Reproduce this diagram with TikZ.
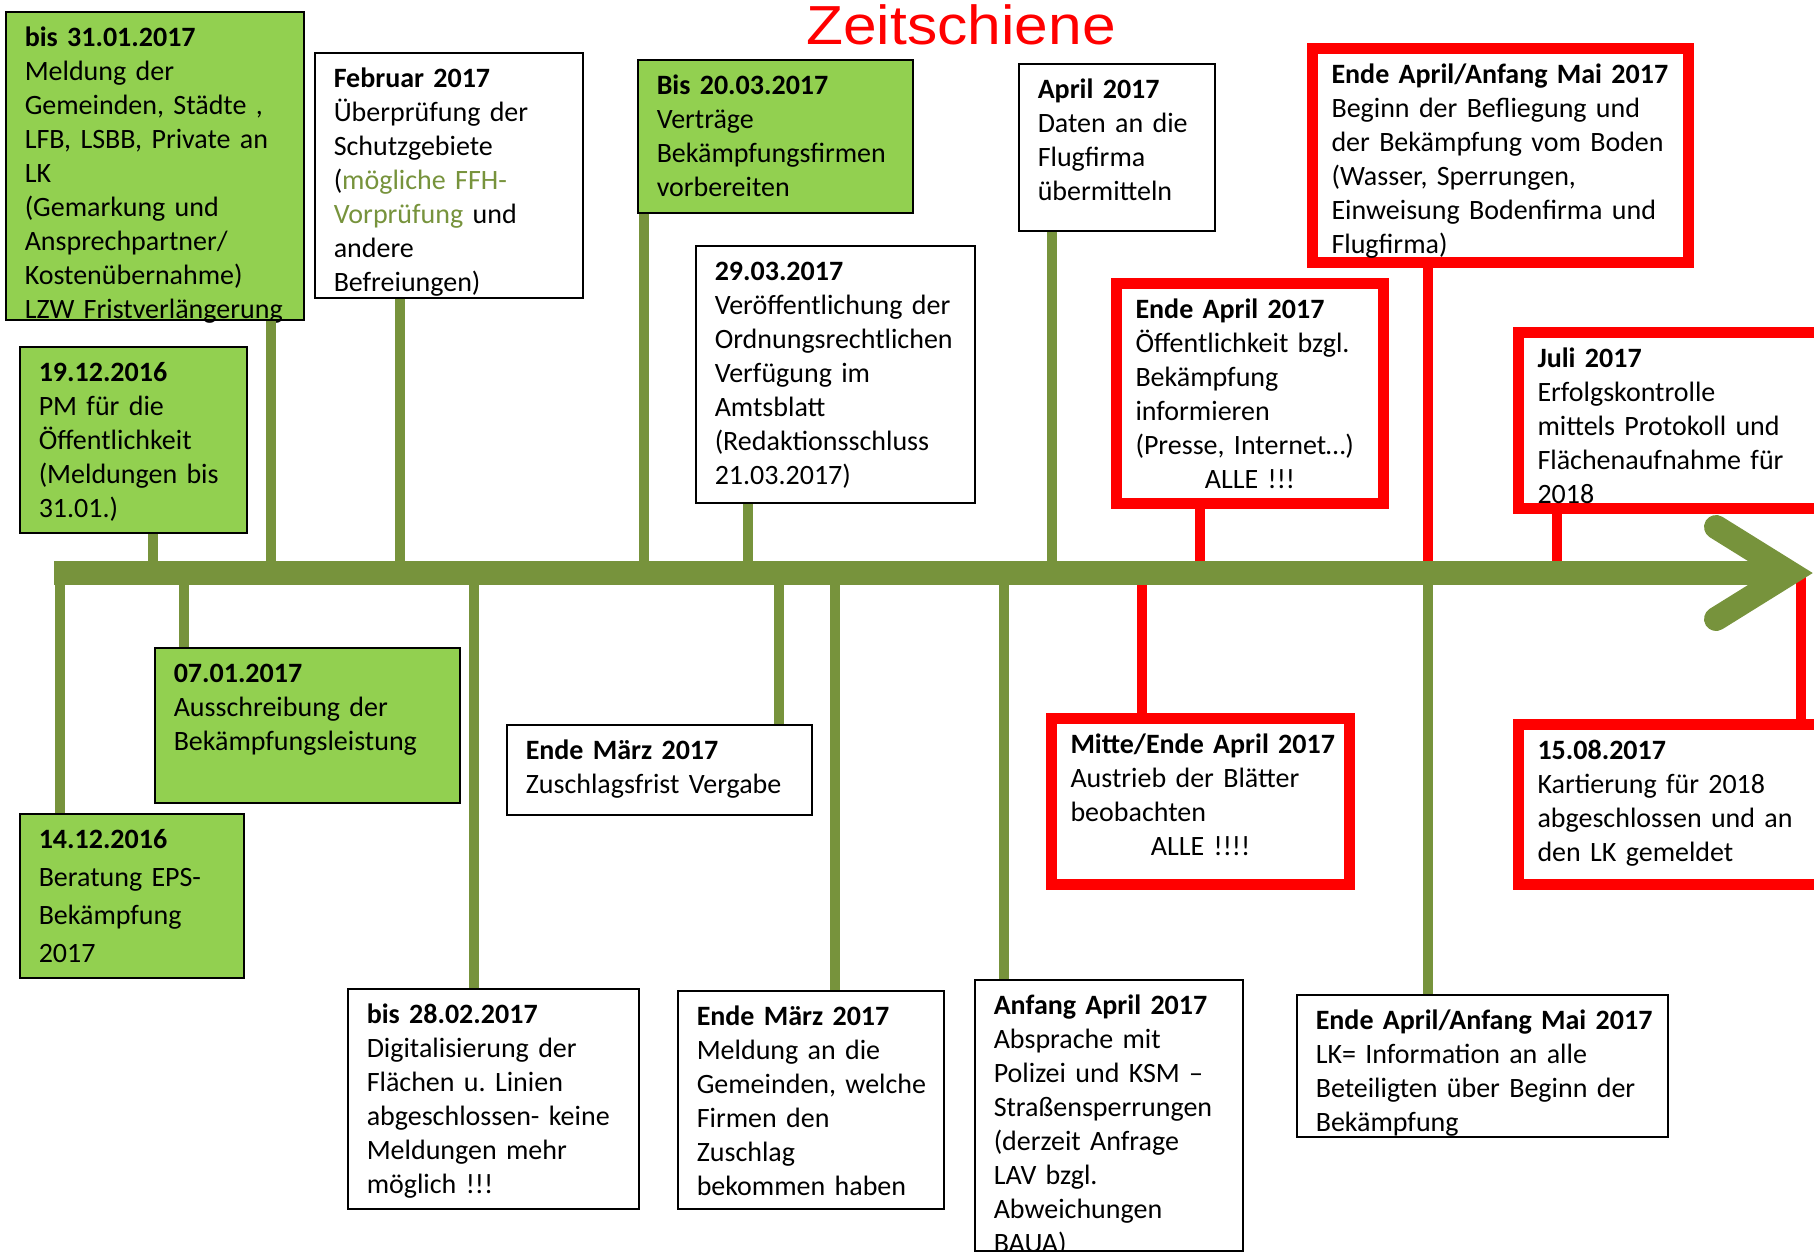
\documentclass[tikz,border=0pt]{standalone}
\usepackage{fontspec}
\setmainfont{Carlito}
\newfontfamily\titlefont[FakeStretch=1.1]{Liberation Sans}
\definecolor{cgreen}{HTML}{92D050}
\definecolor{colive}{HTML}{77933C}
\definecolor{cred}{HTML}{FF0000}
\hyphenpenalty=10000
\exhyphenpenalty=10000
\frenchspacing
% let the hand-broken lines run a little past the text width
\newcommand\looseright{\rightskip=-60pt plus 1fil\relax}

\begin{document}
\begin{tikzpicture}[
    x=1pt, y=-1pt,
    evt/.style={anchor=north west, align=left, inner xsep=19pt, inner ysep=13pt, text height=22pt,
        font=\fontsize{28}{34}\selectfont, execute at begin node=\looseright},
    gbox/.style={evt, draw=black, line width=1.5pt, fill=cgreen},
    wbox/.style={evt, draw=black, line width=1.5pt, fill=white},
    rbox/.style={evt, draw=cred, line width=11pt, fill=white},
    gstem/.style={colive, line width=10pt},
    rstem/.style={cred, line width=10pt},
    axisline/.style={colive, line width=24pt},
]
\useasboundingbox (0,0) rectangle (1814,1251);

% Title
\node[anchor=base, text=cred, font=\titlefont\fontsize{55}{56}\selectfont] (title) at (961,44) {Zeitschiene};

% Boxes above the axis
\node[gbox, text width=260pt, text depth=260pt] (d3101) at (5,11) {\textbf{bis 31.01.2017}\\Meldung der\\Gemeinden, Städte ,\\LFB, LSBB, Private an\\LK\\(Gemarkung und\\Ansprechpartner/\\Kostenübernahme)\\LZW Fristverlängerung};
\node[wbox, text width=230pt, text depth=197pt] (dfeb) at (314,52) {\textbf{Februar 2017}\\Überprüfung der\\Schutzgebiete\\(\textcolor{colive}{mögliche FFH-}\\\textcolor{colive}{Vorprüfung} und\\andere\\Befreiungen)};
\node[gbox, text width=189pt, text depth=138pt] (d1912) at (19,346) {\textbf{19.12.2016}\\PM für die\\Öffentlichkeit\\(Meldungen bis\\31.01.)};
\node[gbox, text width=237pt, text depth=105pt] (d2003) at (637,59) {\textbf{Bis 20.03.2017}\\Verträge\\Bekämpfungsfirmen\\vorbereiten};
\node[wbox, text width=241pt, text depth=209pt] (d2903) at (695,245) {\textbf{29.03.2017}\\Veröffentlichung der\\Ordnungsrechtlichen\\Verfügung im\\Amtsblatt\\(Redaktionsschluss\\21.03.2017)};
\node[wbox, text width=158pt, text depth=119pt] (dapr) at (1018,63) {\textbf{April 2017}\\Daten an die\\Flugfirma\\übermitteln};

% Red boxes above the axis
\node[rbox, text width=229pt, text depth=172pt] (dendapr) at (1111,278) {\textbf{Ende April 2017}\\Öffentlichkeit bzgl.\\Bekämpfung\\informieren\\(Presse, Internet…)\\\makebox[\linewidth]{ALLE !!!}};
\node[rbox, text width=338pt, text depth=166pt] (dmai) at (1307,43) {\textbf{Ende April/Anfang Mai 2017}\\Beginn der Befliegung und\\der Bekämpfung vom Boden\\(Wasser, Sperrungen,\\Einweisung Bodenfirma und\\Flugfirma)};
\node[rbox, text width=292pt, text depth=128pt] (djuli) at (1513,327) {\textbf{Juli 2017}\\Erfolgskontrolle\\mittels Protokoll und\\Flächenaufnahme für\\2018};

% Boxes below the axis
\node[gbox, text width=267pt, text depth=107pt] (d0701) at (154,647) {\textbf{07.01.2017}\\Ausschreibung der\\Bekämpfungsleistung};
\node[gbox, text width=186pt, text depth=116pt, font=\fontsize{28}{38}\selectfont] (d1412) at (19,813) {\textbf{14.12.2016}\\Beratung EPS-\\Bekämpfung\\2017};
\node[wbox, text width=253pt, text depth=172pt] (d2802) at (347,988) {\textbf{bis 28.02.2017}\\Digitalisierung der\\Flächen u. Linien\\abgeschlossen- keine\\Meldungen mehr\\möglich !!!};
\node[wbox, text width=267pt, text depth=42pt] (dendmrz) at (506,724) {\textbf{Ende März 2017}\\Zuschlagsfrist Vergabe};
\node[wbox, text width=228pt, text depth=170pt] (dmrzmeld) at (677,990) {\textbf{Ende März 2017}\\Meldung an die\\Gemeinden, welche\\Firmen den\\Zuschlag\\bekommen haben};
\node[wbox, text width=230pt, text depth=223pt] (danfapr) at (974,979) {\textbf{Anfang April 2017}\\Absprache mit\\Polizei und KSM --\\Straßensperrungen\\(derzeit Anfrage\\LAV bzgl.\\Abweichungen\\BAUA)};
\node[wbox, text width=333pt, text depth=94pt] (dmailk) at (1296,994) {\textbf{Ende April/Anfang Mai 2017}\\LK= Information an alle\\Beteiligten über Beginn der\\Bekämpfung};

% Red boxes below the axis
\node[rbox, text width=260pt, text depth=118pt] (dmitte) at (1046,713) {\textbf{Mitte/Ende April 2017}\\Austrieb der Blätter\\beobachten\\\makebox[\linewidth]{ALLE !!!!}};
\node[rbox, text width=292pt, text depth=112pt] (d1508) at (1513,719) {\textbf{15.08.2017}\\Kartierung für 2018\\abgeschlossen und an\\den LK gemeldet};

% Feet of the stems on the axis
\coordinate (s3101) at (271,573);
\coordinate (sfeb) at (400,573);
\coordinate (s1912) at (153,573);
\coordinate (s2003) at (644,573);
\coordinate (s2903) at (748,573);
\coordinate (sapr) at (1052,573);
\coordinate (sendapr) at (1200,573);
\coordinate (smai) at (1428,573);
\coordinate (sjuli) at (1557,573);
\coordinate (s0701) at (184,573);
\coordinate (s1412) at (60,573);
\coordinate (s2802) at (474,573);
\coordinate (sendmrz) at (779,573);
\coordinate (smrzmeld) at (835,573);
\coordinate (sanfapr) at (1004,573);
\coordinate (smitte) at (1142,573);
\coordinate (s1508) at (1801,573);

% Stems up
\draw[gstem] (s3101) -- (s3101 |- d3101.south);
\draw[gstem] (sfeb) -- (sfeb |- dfeb.south);
\draw[gstem] (s1912) -- (s1912 |- d1912.south);
\draw[gstem] (s2003) -- (s2003 |- d2003.south);
\draw[gstem] (s2903) -- (s2903 |- d2903.south);
\draw[gstem] (sapr) -- (sapr |- dapr.south);
\draw[rstem] (sendapr) -- (sendapr |- dendapr.south);
\draw[rstem] (smai) -- (smai |- dmai.south);
\draw[rstem] (sjuli) -- (sjuli |- djuli.south);

% Stems down
\draw[gstem] (s0701) -- (s0701 |- d0701.north);
\draw[gstem] (s1412) -- (s1412 |- d1412.north);
\draw[gstem] (s2802) -- (s2802 |- d2802.north);
\draw[gstem] (sendmrz) -- (sendmrz |- dendmrz.north);
\draw[gstem] (smrzmeld) -- (smrzmeld |- dmrzmeld.north);
\draw[gstem] (sanfapr) -- (sanfapr |- danfapr.north);
\draw[gstem] (smai) -- (smai |- dmailk.north);
\draw[rstem] (smitte) -- (smitte |- dmitte.north);
\draw[rstem] (s1508) -- (s1508 |- d1508.north);

% Time axis with open arrow head
\coordinate (ax0) at (54,573);
\coordinate (ax1) at (1790,573);
\draw[axisline] (ax0) -- (ax1);
\draw[axisline, line cap=round, line join=miter] (1716,527) -- (ax1) -- (1716,619);

\end{tikzpicture}
\end{document}
